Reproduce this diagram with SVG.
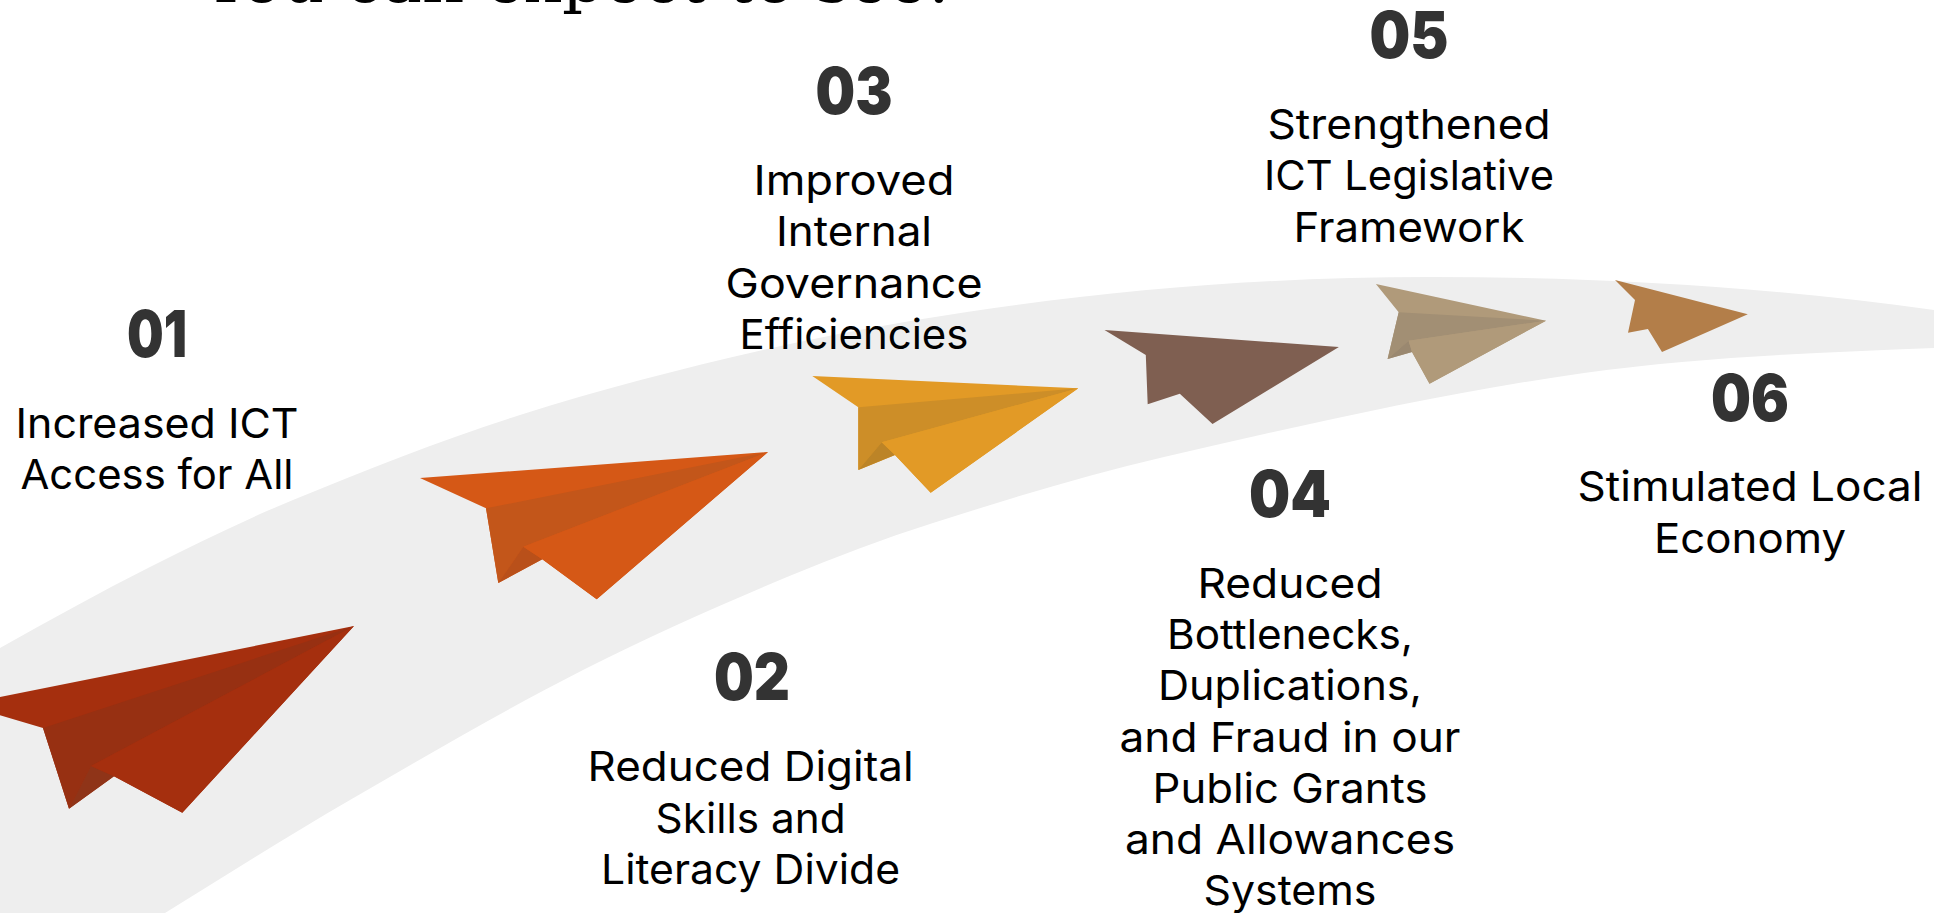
<svg xmlns="http://www.w3.org/2000/svg" width="1934" height="913" viewBox="0 0 1934 913">
<style>
.t{font-family:"Inter","Open Sans","Liberation Sans",sans-serif;font-size:41px;font-weight:400;fill:#000;text-anchor:middle}
.n{font-family:"Inter","Open Sans","Liberation Sans",sans-serif;font-size:65px;font-weight:900;fill:#333;text-anchor:middle}
.h{font-family:"DejaVu Serif","Liberation Serif",serif;font-size:60px;fill:#000}
</style>
<rect width="1934" height="913" fill="#fff"/>
<text id="title" class="h" x="204" y="2" textLength="746" lengthAdjust="spacingAndGlyphs">You can expect to see:</text>
<path id="band" fill="#eee" d="M0,648C50,620 100,592.25 150,567C197.7,543 245.3,519.6 293,500C368.7,468.9 444.3,439.1 520,415C601,389.2 682,368.6 763,350C831,334.4 899,322.2 967,312C1121.3,288.8 1275.7,277 1430,277C1598,277 1766,286.5 1934,310L1934,348C1817.3,352.7 1700.7,356.7 1584,373C1444,392.6 1304,424.8 1164,457C1087,474.7 1010,498.5 933,523C884.3,538.5 835.7,556.6 787,577C719,605.6 651,635.3 583,670C505.3,709.6 427.7,755 350,800C288.3,835.8 226.7,874.8 165,913L0,913Z"/>
<g id="connectors"></g>
<g id="step-01">
<polygon fill="#a52f0e" points="0,697 354,626 182.3,812.7 114,776.3 69,808.7 43,728 0,715.3"/>
<polygon fill="#973012" points="43,728 354,626 91,766 69,808.7"/>
<polygon fill="#8f3418" points="91,766 114,776.3 69,808.7"/>
<polygon fill="#a52f0e" points="91,766 354,626 182.3,812.7 114,776.3"/>
<text class="n" x="157" y="357" textLength="60" lengthAdjust="spacingAndGlyphs">01</text>
<text class="t" x="157" y="437.5" textLength="283" lengthAdjust="spacingAndGlyphs">Increased ICT</text>
<text class="t" x="157" y="489" textLength="273" lengthAdjust="spacingAndGlyphs">Access for All</text>
</g>
<g id="step-02">
<polygon fill="#d55816" points="420,478 768,452 596.7,599.3 542.3,559.3 498.3,583 486,508.3"/>
<polygon fill="#c3561a" points="486,508.3 768,452 523.3,546.7 498.3,583"/>
<polygon fill="#b9501a" points="523.3,546.7 542.3,559.3 498.3,583"/>
<polygon fill="#d55816" points="523.3,546.7 768,452 596.7,599.3 542.3,559.3"/>
<text class="n" x="752" y="700.3" textLength="76" lengthAdjust="spacingAndGlyphs">02</text>
<text class="t" x="750.6" y="781" textLength="326" lengthAdjust="spacingAndGlyphs">Reduced Digital</text>
<text class="t" x="750.6" y="832.7" textLength="190" lengthAdjust="spacingAndGlyphs">Skills and</text>
<text class="t" x="750.6" y="883.7" textLength="299" lengthAdjust="spacingAndGlyphs">Literacy Divide</text>
</g>
<g id="step-03">
<polygon fill="#e29a26" points="812.3,376 1078.3,388.3 930.7,492.7 895,455 858.3,470 858.3,407.3"/>
<polygon fill="#cd8e28" points="858.3,407.3 1078.3,388.3 881.7,442.3 858.3,470"/>
<polygon fill="#bc8427" points="881.7,442.3 895,455 858.3,470"/>
<polygon fill="#e29a26" points="881.7,442.3 1078.3,388.3 930.7,492.7 895,455"/>
<text class="n" x="854" y="114.3" textLength="77" lengthAdjust="spacingAndGlyphs">03</text>
<text class="t" x="854" y="194.8" textLength="201" lengthAdjust="spacingAndGlyphs">Improved</text>
<text class="t" x="854" y="245.8" textLength="156" lengthAdjust="spacingAndGlyphs">Internal</text>
<text class="t" x="854" y="297.5" textLength="257" lengthAdjust="spacingAndGlyphs">Governance</text>
<text class="t" x="854" y="348.8" textLength="229" lengthAdjust="spacingAndGlyphs">Efficiencies</text>
</g>
<g id="step-04">
<polygon fill="#7f5f51" points="1104.5,330 1338.9,347 1212.5,424 1179.8,393.7 1147.7,404.3 1145.8,355"/>
<text class="n" x="1290" y="517" textLength="82" lengthAdjust="spacingAndGlyphs">04</text>
<text class="t" x="1290" y="598" textLength="185" lengthAdjust="spacingAndGlyphs">Reduced</text>
<text class="t" x="1290" y="648.7" textLength="246" lengthAdjust="spacingAndGlyphs">Bottlenecks,</text>
<text class="t" x="1290" y="700" textLength="264" lengthAdjust="spacingAndGlyphs">Duplications,</text>
<text class="t" x="1290" y="751.5" textLength="341" lengthAdjust="spacingAndGlyphs">and Fraud in our</text>
<text class="t" x="1290" y="802.7" textLength="275" lengthAdjust="spacingAndGlyphs">Public Grants</text>
<text class="t" x="1290" y="853.7" textLength="330" lengthAdjust="spacingAndGlyphs">and Allowances</text>
<text class="t" x="1290" y="905" textLength="173" lengthAdjust="spacingAndGlyphs">Systems</text>
</g>
<g id="step-05">
<polygon fill="#b09a7a" points="1375.9,284 1546,320.7 1429.5,383.7 1412,352 1387.6,359 1398.7,312.3"/>
<polygon fill="#a28f74" points="1398.7,312.3 1546,320.7 1408.6,340.7 1387.6,359"/>
<polygon fill="#9a8870" points="1408.6,340.7 1412,352 1387.6,359"/>
<polygon fill="#b09a7a" points="1408.6,340.7 1546,320.7 1429.5,383.7 1412,352"/>
<text class="n" x="1409" y="58" textLength="79" lengthAdjust="spacingAndGlyphs">05</text>
<text class="t" x="1409" y="138.8" textLength="283" lengthAdjust="spacingAndGlyphs">Strengthened</text>
<text class="t" x="1409" y="189.9" textLength="290" lengthAdjust="spacingAndGlyphs">ICT Legislative</text>
<text class="t" x="1409" y="241.7" textLength="231" lengthAdjust="spacingAndGlyphs">Framework</text>
</g>
<g id="step-06">
<polygon fill="#b37e49" points="1615,280 1747.8,314.3 1662,352 1647.9,329 1628,332.7 1635,300"/>
<text class="n" x="1750" y="420.7" textLength="78" lengthAdjust="spacingAndGlyphs">06</text>
<text class="t" x="1750" y="501.3" textLength="345" lengthAdjust="spacingAndGlyphs">Stimulated Local</text>
<text class="t" x="1750" y="552.7" textLength="192" lengthAdjust="spacingAndGlyphs">Economy</text>
</g>
</svg>
